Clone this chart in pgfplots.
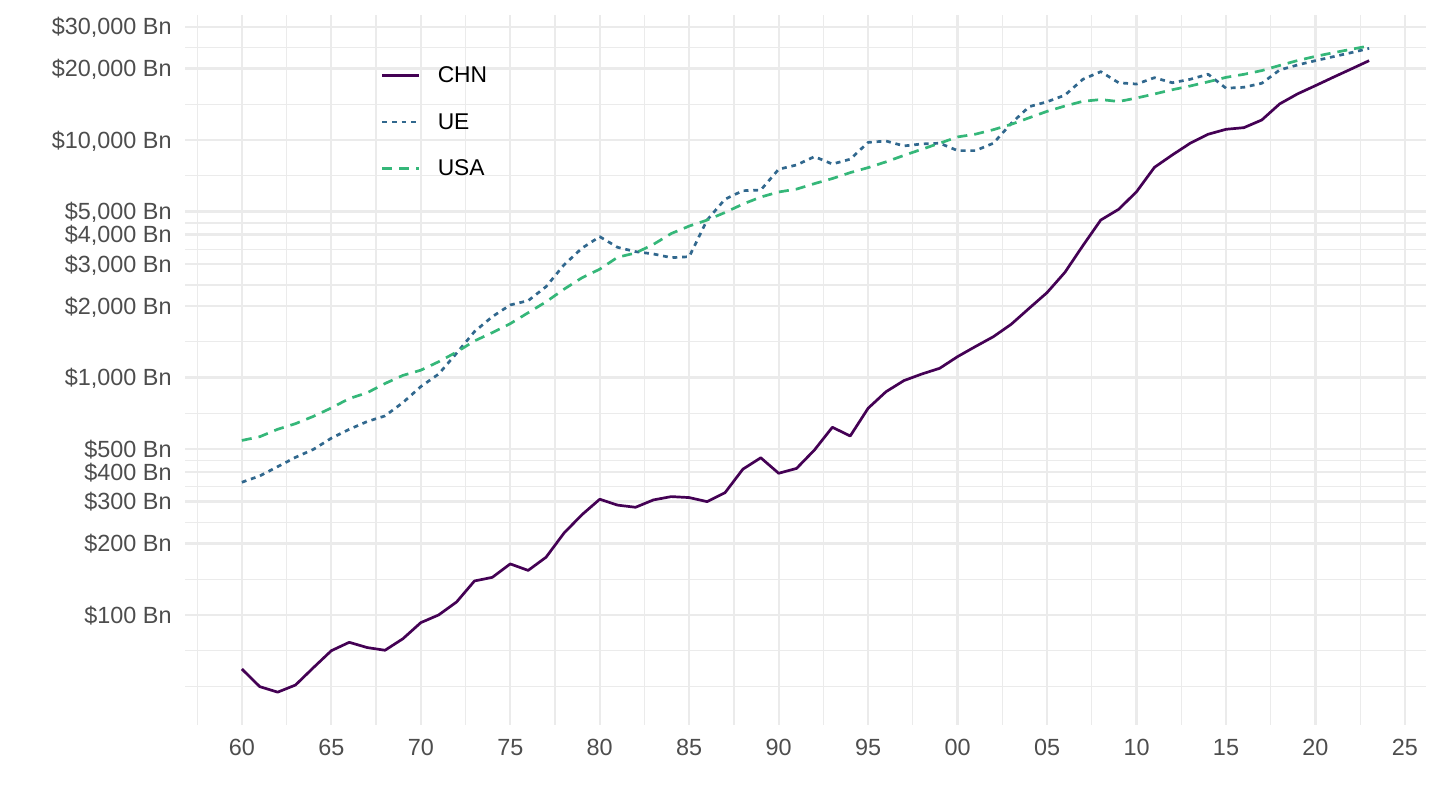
\documentclass[border=0pt]{standalone}
\usepackage{pgfplots}
\pgfplotsset{compat=1.18}
\usepackage{pgfplotstable}
\usepackage{fontspec}
\setmainfont{Liberation Sans}
\definecolor{chn}{HTML}{440154}
\definecolor{ue}{HTML}{31688E}
\definecolor{usa}{HTML}{35B779}
\definecolor{gridc}{HTML}{EBEBEB}
\definecolor{tickc}{HTML}{4D4D4D}

\pgfplotstableread{
year chn ue usa
1960 59.2 362 543
1961 49.9 385 563
1962 47.3 421 605
1963 50.7 461 639
1964 60.0 498 686
1965 70.7 555 744
1966 76.7 605 815
1967 72.9 652 862
1968 71.0 689 943
1969 79.4 784 1020
1970 92.8 915 1073
1971 100 1034 1165
1972 113.4 1265 1279
1973 139 1560 1425
1974 144 1804 1545
1975 164 2020 1685
1976 154 2105 1873
1977 175 2412 2082
1978 221 2977 2352
1979 264 3500 2627
1980 307 3917 2857
1981 290 3532 3207
1982 284 3387 3344
1983 305 3312 3634
1984 315 3195 4038
1985 312 3225 4339
1986 300 4600 4600
1987 327 5630 4950
1988 411 6116 5370
1989 459 6155 5750
1990 395 7530 6040
1991 414 7850 6210
1992 495 8510 6550
1993 617 7920 6880
1994 567 8300 7287
1995 742 9770 7650
1996 871 9900 8090
1997 970 9440 8610
1998 1034 9620 9140
1999 1093 9690 9690
2000 1224 9020 10300
2001 1350 9020 10582
2002 1485 9690 11050
2003 1676 11750 11640
2004 1956 13810 12400
2005 2277 14480 13200
2006 2773 15450 13900
2007 3589 18010 14550
2008 4602 19400 14800
2009 5105 17420 14520
2010 6055 17200 15020
2011 7670 18290 15620
2012 8650 17420 16280
2013 9690 18010 16880
2014 10570 18920 17580
2015 11090 16520 18350
2016 11270 16670 18900
2017 12140 17330 19600
2018 14190 19720 20600
2019 15640 20700 21600
2020 16940 21580 22500
2021 18380 22430 23300
2022 19910 23320 24100
2023 21580 24310 24900
}\gdp

\begin{document}
\begin{tikzpicture}
\useasboundingbox (0,0) rectangle (720pt,405pt);
\begin{axis}[
  at={(92.75pt,42.5pt)}, anchor=south west,
  scale only axis, width=620pt, height=355pt,
  ymode=log, log basis y=10,
  xmin=1956.85, xmax=2026.15, ymin=34.4, ymax=33600,
  axis line style={draw=none},
  tick style={draw=none},
  major tick length=0pt, minor tick length=0pt,
  grid=both,
  major grid style={gridc, line width=1.15pt},
  minor grid style={gridc, line width=0.6pt},
  xtick={1960,1965,...,2025},
  xticklabels={60,65,70,75,80,85,90,95,00,05,10,15,20,25},
  minor xtick={1957.5,1962.5,...,2022.5},
  ytick={100,200,300,400,500,1000,2000,3000,4000,5000,10000,20000,30000},
  yticklabels={{\$100 Bn},{\$200 Bn},{\$300 Bn},{\$400 Bn},{\$500 Bn},{\$1,000 Bn},{\$2,000 Bn},{\$3,000 Bn},{\$4,000 Bn},{\$5,000 Bn},{\$10,000 Bn},{\$20,000 Bn},{\$30,000 Bn}},
  minor ytick={50,70.71,141.4,244.9,346.4,447.2,707.1,1414,2449,3464,4472,7071,14142,24495},
  ticklabel style={font=\fontsize{11.7}{13.5}\selectfont, text=tickc, inner sep=0pt},
  yticklabel style={anchor=base east, xshift=-6.75pt, yshift=-4.1pt},
  xticklabel style={anchor=base, yshift=-15pt},
  legend cell align=left,
  legend style={at={(axis description cs:0.1577,0.9276)}, anchor=north west,
    draw=none, fill=none, inner sep=0pt, outer sep=0pt, row sep=15.35pt,
    font=\fontsize{11.4}{13}\selectfont,
    nodes={inner sep=0pt, text height=8pt, text depth=0pt},
    /tikz/every odd column/.append style={column sep=8.5pt}},
  legend image code/.code={\draw[#1] (0pt,-0.5pt) -- (18.5pt,-0.5pt);},
]
\addplot[chn, line width=1.35pt, line join=round] table[x=year,y=chn]{\gdp};
\addlegendentry{CHN}
\addplot[ue, line width=1.35pt, line join=round, dash pattern=on 2.4pt off 2.4pt] table[x=year,y=ue]{\gdp};
\addlegendentry{UE}
\addplot[usa, line width=1.35pt, line join=round, dash pattern=on 5pt off 3.5pt] table[x=year,y=usa]{\gdp};
\addlegendentry{USA}
\end{axis}
\end{tikzpicture}
\end{document}
